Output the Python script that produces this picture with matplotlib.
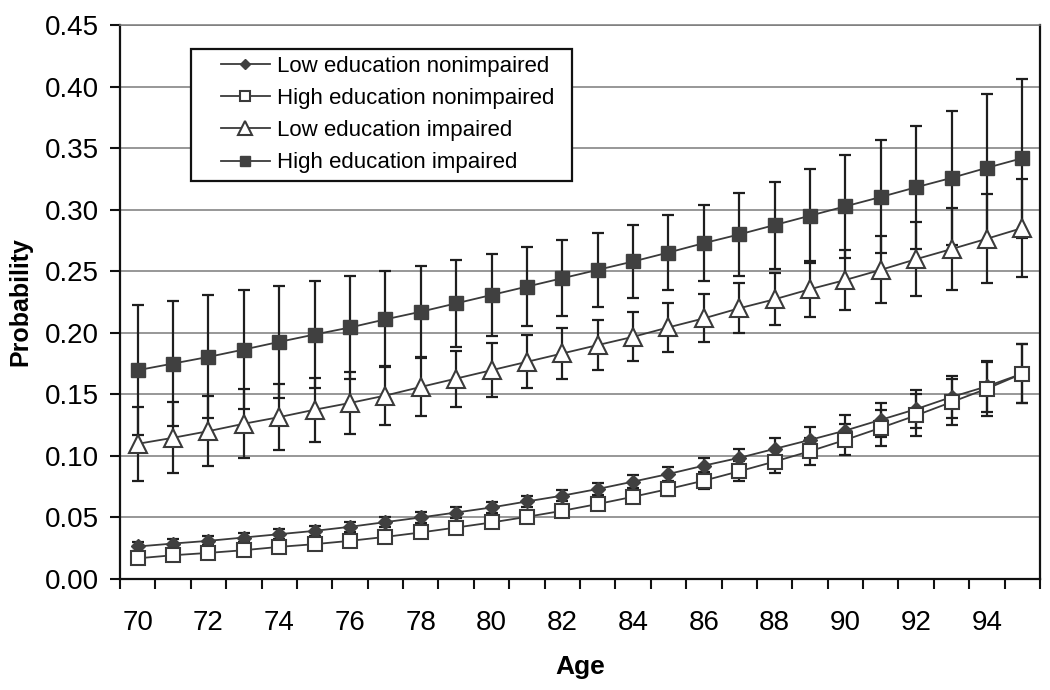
import numpy as np
import matplotlib as mpl
import matplotlib.pyplot as plt
from matplotlib.patches import Rectangle
from matplotlib.ticker import FixedLocator, NullFormatter

mpl.use('Agg')
mpl.rcParams['font.family'] = ['Liberation Sans', 'DejaVu Sans']

# Age categories
ages = list(range(70, 96))

# Low education nonimpaired
low_nonimp = [0.0264, 0.0288, 0.0310, 0.0337, 0.0364, 0.0391, 0.0424, 0.0462, 0.0500,
              0.0540, 0.0581, 0.0630, 0.0677, 0.0731, 0.0791, 0.0853, 0.0921, 0.0984,
              0.1057, 0.1130, 0.1206, 0.1293, 0.1380, 0.1478, 0.1565, 0.1668]
low_nonimp_err = [0.0035, 0.0036, 0.0037, 0.0038, 0.0039, 0.0040, 0.0041, 0.0042, 0.0043,
                  0.0044, 0.0045, 0.0045, 0.0046, 0.0048, 0.0050, 0.0055, 0.0060, 0.0073,
                  0.0087, 0.0103, 0.0123, 0.0136, 0.0153, 0.0170, 0.0205, 0.0240]

# High education nonimpaired
high_nonimp = [0.0168, 0.0193, 0.0212, 0.0234, 0.0261, 0.0283, 0.0310, 0.0342, 0.0378,
               0.0418, 0.0459, 0.0505, 0.0554, 0.0609, 0.0668, 0.0731, 0.0799, 0.0875,
               0.0954, 0.1038, 0.1130, 0.1228, 0.1329, 0.1437, 0.1546, 0.1668]
high_nonimp_err = [0.0020, 0.0021, 0.0022, 0.0023, 0.0024, 0.0025, 0.0026, 0.0028, 0.0030,
                   0.0032, 0.0034, 0.0037, 0.0040, 0.0045, 0.0050, 0.0054, 0.0068, 0.0082,
                   0.0096, 0.0108, 0.0125, 0.0145, 0.0170, 0.0190, 0.0220, 0.0240]

# Low education impaired
low_imp = [0.1098, 0.1147, 0.1201, 0.1261, 0.1315, 0.1375, 0.1430, 0.1490, 0.1560,
           0.1628, 0.1696, 0.1764, 0.1832, 0.1900, 0.1967, 0.2044, 0.2117, 0.2199,
           0.2272, 0.2354, 0.2429, 0.2511, 0.2598, 0.2680, 0.2764, 0.2851]
low_imp_err = [0.0300, 0.0290, 0.0285, 0.0280, 0.0270, 0.0260, 0.0250, 0.0240, 0.0232,
               0.0228, 0.0220, 0.0215, 0.0205, 0.0200, 0.0198, 0.0200, 0.0195, 0.0204,
               0.0212, 0.0226, 0.0244, 0.0272, 0.0300, 0.0330, 0.0362, 0.0397]

# High education impaired
high_imp = [0.1696, 0.1750, 0.1804, 0.1864, 0.1926, 0.1986, 0.2043, 0.2109, 0.2171,
            0.2239, 0.2307, 0.2375, 0.2443, 0.2511, 0.2579, 0.2652, 0.2728, 0.2799,
            0.2875, 0.2951, 0.3027, 0.3103, 0.3182, 0.3258, 0.3340, 0.3418]
high_imp_err = [0.0530, 0.0510, 0.0500, 0.0480, 0.0455, 0.0435, 0.0420, 0.0390, 0.0370,
                0.0355, 0.0335, 0.0320, 0.0310, 0.0300, 0.0295, 0.0302, 0.0310, 0.0334,
                0.0353, 0.0383, 0.0419, 0.0459, 0.0500, 0.0546, 0.0597, 0.0647]

labels = ['Low education nonimpaired', 'High education nonimpaired',
          'Low education impaired', 'High education impaired']

line_color = '#3a3a3a'
fill_color = '#404040'
err_color = '#1e1e1e'

fig = plt.figure(figsize=(10.5, 6.9), dpi=100)
ax = fig.add_axes([120 / 1050, 1 - 579 / 690, 920 / 1050, 554 / 690])

series = [
    (low_nonimp, low_nonimp_err, dict(marker='D', markersize=7, markerfacecolor=fill_color,
                                      markeredgecolor=fill_color)),
    (high_nonimp, high_nonimp_err, dict(marker='s', markersize=10, markerfacecolor='white',
                                        markeredgecolor=line_color, markeredgewidth=1.5)),
    (low_imp, low_imp_err, dict(marker='^', markersize=13, markerfacecolor='white',
                                markeredgecolor=line_color, markeredgewidth=1.5)),
    (high_imp, high_imp_err, dict(marker='s', markersize=10, markerfacecolor=fill_color,
                                  markeredgecolor=fill_color)),
]

handles = []
for (vals, errs, style), label in zip(series, labels):
    ax.errorbar(ages, vals, yerr=errs, fmt='none', ecolor=err_color, elinewidth=1.6,
                capsize=4.5, capthick=1.6, zorder=3)
    h, = ax.plot(ages, vals, '-', color=line_color, linewidth=1.3, zorder=4,
                 label=label, **style)
    handles.append(h)

ax.set_xlim(69.5, 95.5)
ax.set_ylim(0, 0.45)

# Y axis
ax.set_yticks(np.arange(0, 0.451, 0.05))
ax.set_yticklabels(['%.2f' % v for v in np.arange(0, 0.451, 0.05)])
ax.yaxis.grid(True, color='#7a7a7a', linewidth=1.1)
ax.set_axisbelow(True)

# X axis: ticks between categories, labels on even ages
ax.xaxis.set_major_locator(FixedLocator(np.arange(69.5, 95.6, 1.0)))
ax.xaxis.set_major_formatter(NullFormatter())
even_ages = [a for a in ages if a % 2 == 0]
ax.xaxis.set_minor_locator(FixedLocator(even_ages))
ax.set_xticklabels([str(a) for a in even_ages], minor=True)

ax.tick_params(axis='x', which='major', length=7, width=1.5, direction='out', color='#111111')
ax.tick_params(axis='x', which='minor', length=0, labelsize=20, pad=22)
ax.tick_params(axis='y', length=7, width=1.5, direction='out', labelsize=20, pad=8,
               color='#111111')

for side in ['left', 'bottom', 'right']:
    ax.spines[side].set_color('#111111')
    ax.spines[side].set_linewidth(1.6)
ax.spines['top'].set_color('#7a7a7a')
ax.spines['top'].set_linewidth(1.1)

ax.set_xlabel('Age', fontsize=19, fontweight='bold', labelpad=14)
ax.set_ylabel('Probability', fontsize=18, fontweight='bold', labelpad=9)

# Legend without its own frame; a box with wider left margin is drawn around it
leg = ax.legend(handles=handles, loc='upper left', bbox_to_anchor=(0.105, 0.952),
                borderaxespad=0, fontsize=16, handlelength=2.2, handletextpad=0.3,
                labelspacing=0.5, borderpad=0.2, frameon=False, markerscale=0.75)
leg.set_zorder(6)

fig.canvas.draw()
bb = leg.get_window_extent().transformed(ax.transAxes.inverted())
pad_l = 26 / 920
pad_r = 14 / 920
pad_v = 3 / 554
box = Rectangle((bb.x0 - pad_l, bb.y0 - pad_v), bb.width + pad_l + pad_r, bb.height + 2 * pad_v,
                transform=ax.transAxes, facecolor='white', edgecolor='#111111',
                linewidth=1.6, zorder=5)
ax.add_patch(box)

fig.savefig('out.png', dpi=100)
plt.close(fig)
